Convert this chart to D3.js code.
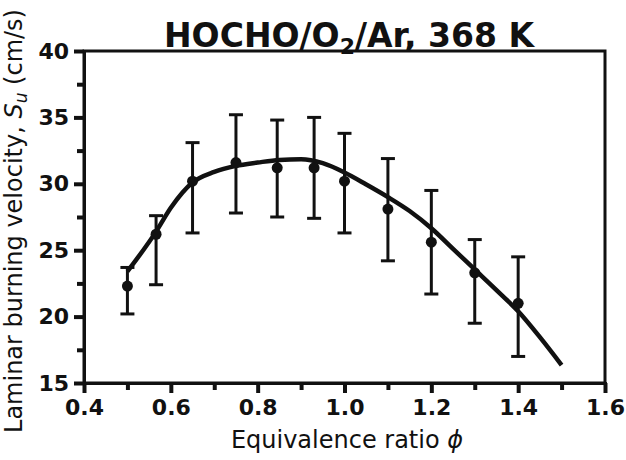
<!DOCTYPE html>
<html>
<head>
<meta charset="utf-8">
<script src="https://cdn.jsdelivr.net/npm/d3@7"></script>
<style>
  body { margin: 0; background: #fff; }
  text { font-family: "DejaVu Sans", sans-serif; fill: #111; }
</style>
</head>
<body>
<div id="chart"></div>
<script>
// measured points with error bars
const phi = [0.5, 0.566, 0.65, 0.75, 0.845, 0.93, 1.0, 1.1, 1.2, 1.3, 1.4];
const su = [22.3, 26.2, 30.2, 31.6, 31.2, 31.2, 30.2, 28.1, 25.6, 23.3, 21.0];
const errHi = [23.7, 27.6, 33.1, 35.2, 34.8, 35.0, 33.8, 31.9, 29.5, 25.8, 24.5];
const errLo = [20.2, 22.4, 26.3, 27.8, 27.5, 27.4, 26.3, 24.2, 21.7, 19.5, 17.0];

// model curve
const curvePhi = [0.5, 0.566, 0.6, 0.65, 0.7, 0.75, 0.8, 0.85, 0.9, 0.95, 1.0, 1.05, 1.1, 1.15, 1.2, 1.25, 1.3, 1.35, 1.4, 1.45, 1.5];
const curveSu = [23.4, 26.4, 28.2, 30.1, 30.9, 31.35, 31.6, 31.8, 31.85, 31.55, 30.85, 29.95, 29.0, 27.95, 26.65, 25.1, 23.55, 22.0, 20.4, 18.45, 16.35];

const xTicks = [0.4, 0.6, 0.8, 1.0, 1.2, 1.4, 1.6];
const xMinor = [0.5, 0.7, 0.9, 1.1, 1.3, 1.5];
const yTicks = [15, 20, 25, 30, 35, 40];
const yMinor = [17.5, 22.5, 27.5, 32.5, 37.5];

const W = 626, H = 460;
const m = { left: 84, right: 21, top: 51, bottom: 77 };

const svg = d3.select('#chart').append('svg')
    .attr('width', W)
    .attr('height', H);

const x = d3.scaleLinear().domain([0.4, 1.6]).range([m.left, W - m.right]);
const y = d3.scaleLinear().domain([15, 40]).range([H - m.bottom, m.top]);

// frame
svg.append('rect')
    .attr('x', x(0.4)).attr('y', y(40))
    .attr('width', x(1.6) - x(0.4)).attr('height', y(15) - y(40))
    .attr('fill', 'none').attr('stroke', '#111').attr('stroke-width', 3);

// axes
svg.append('g')
    .attr('transform', `translate(0,${y(15)})`)
    .call(d3.axisBottom(x).tickValues(xTicks).tickFormat(d3.format('.1f')).tickSize(10).tickPadding(6));
svg.append('g')
    .attr('transform', `translate(0,${y(15)})`)
    .call(d3.axisBottom(x).tickValues(xMinor).tickFormat('').tickSize(7))
    .call(g => g.select('.domain').remove());

svg.append('g')
    .attr('transform', `translate(${x(0.4)},0)`)
    .call(d3.axisLeft(y).tickValues(yTicks).tickSize(10).tickPadding(5));
svg.append('g')
    .attr('transform', `translate(${x(0.4)},0)`)
    .call(d3.axisLeft(y).tickValues(yMinor).tickFormat('').tickSize(7))
    .call(g => g.select('.domain').remove());

svg.selectAll('.tick line').attr('stroke', '#111').attr('stroke-width', 4);
svg.selectAll('.domain').attr('stroke', '#111').attr('stroke-width', 3);
svg.selectAll('.tick text')
    .style('font-family', '"DejaVu Sans", sans-serif')
    .style('font-size', '22px')
    .style('font-weight', 'bold')
    .attr('fill', '#111');

// error bars
const pts = phi.map((p, i) => ({ p, v: su[i], hi: errHi[i], lo: errLo[i] }));
const eb = svg.append('g').attr('stroke', '#111').attr('stroke-width', 3);
eb.selectAll('line.bar').data(pts).enter().append('line')
    .attr('x1', d => x(d.p)).attr('x2', d => x(d.p))
    .attr('y1', d => y(d.hi)).attr('y2', d => y(d.lo));
eb.selectAll('line.capHi').data(pts).enter().append('line')
    .attr('x1', d => x(d.p) - 7).attr('x2', d => x(d.p) + 7)
    .attr('y1', d => y(d.hi)).attr('y2', d => y(d.hi));
eb.selectAll('line.capLo').data(pts).enter().append('line')
    .attr('x1', d => x(d.p) - 7).attr('x2', d => x(d.p) + 7)
    .attr('y1', d => y(d.lo)).attr('y2', d => y(d.lo));

// model line
const line = d3.line().x(d => x(d[0])).y(d => y(d[1])).curve(d3.curveMonotoneX);
svg.append('path')
    .datum(curvePhi.map((p, i) => [p, curveSu[i]]))
    .attr('d', line)
    .attr('fill', 'none')
    .attr('stroke', '#111')
    .attr('stroke-width', 4.5);

// points
svg.append('g').selectAll('circle').data(pts).enter().append('circle')
    .attr('cx', d => x(d.p)).attr('cy', d => y(d.v))
    .attr('r', 5.5).attr('fill', '#111');

// title
const title = svg.append('text')
    .attr('x', 349).attr('y', 47)
    .attr('text-anchor', 'middle')
    .style('font-size', '33px').style('font-weight', 'bold');
title.append('tspan').text('HOCHO/O');
title.append('tspan').text('2').attr('font-size', '22px').attr('dy', 7);
title.append('tspan').text('/Ar, 368 K').attr('dy', -7);

// x label
const xl = svg.append('text')
    .attr('x', 347).attr('y', 448)
    .attr('text-anchor', 'middle')
    .style('font-size', '24px');
xl.append('tspan').text('Equivalence ratio ');
xl.append('tspan').text('ϕ').attr('font-style', 'italic');

// y label
const yl = svg.append('text')
    .attr('transform', 'translate(22,221) rotate(-90)')
    .attr('text-anchor', 'middle')
    .style('font-size', '24px');
yl.append('tspan').text('Laminar burning velocity, ');
yl.append('tspan').text('S').attr('font-style', 'italic');
yl.append('tspan').text('u').attr('font-style', 'italic').attr('font-size', '17px').attr('dy', 5);
yl.append('tspan').text(' (cm/s)').attr('dy', -5);
</script>
</body>
</html>
